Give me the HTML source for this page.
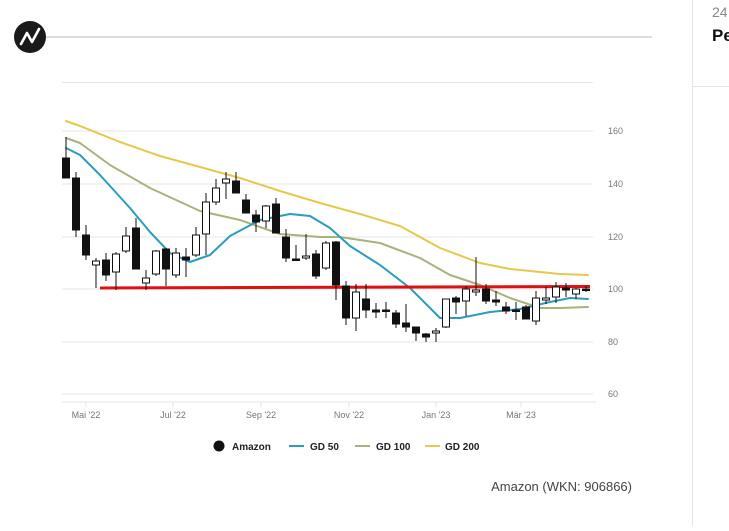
<!DOCTYPE html>
<html><head><meta charset="utf-8"><style>
body{margin:0;background:#fff;width:729px;height:526px;overflow:hidden;font-family:"Liberation Sans",sans-serif}
</style></head><body>
<svg width="729" height="526" xmlns="http://www.w3.org/2000/svg" font-family="Liberation Sans, sans-serif">
<line x1="40" y1="37" x2="652" y2="37" stroke="#c8c8c8" stroke-width="1.2"/>
<circle cx="30" cy="37" r="16" fill="#1a1a1a"/>
<polyline points="21,44 27,33 32,42 39,29" fill="none" stroke="#fff" stroke-width="2.6" stroke-linejoin="round" stroke-linecap="round"/>
<line x1="692.5" y1="0" x2="692.5" y2="526" stroke="#e4e4e4"/>
<line x1="692" y1="86.5" x2="729" y2="86.5" stroke="#e4e4e4"/>
<text x="712" y="17" font-size="14" fill="#888">24</text>
<text x="712" y="41" font-size="17" font-weight="bold" fill="#111">Pe</text>
<line x1="62" y1="82.5" x2="593" y2="82.5" stroke="#e6e6e6"/>
<g stroke="#e4e4e4" stroke-width="1">
<line x1="62" y1="131" x2="593" y2="131"/><line x1="62" y1="184" x2="593" y2="184"/>
<line x1="62" y1="237" x2="593" y2="237"/><line x1="62" y1="289" x2="593" y2="289"/>
<line x1="62" y1="342" x2="593" y2="342"/><line x1="62" y1="394" x2="593" y2="394"/>
<line x1="62" y1="402" x2="596" y2="402"/>
<line x1="86" y1="402" x2="86" y2="407"/><line x1="173" y1="402" x2="173" y2="407"/>
<line x1="261" y1="402" x2="261" y2="407"/><line x1="349" y1="402" x2="349" y2="407"/>
<line x1="436" y1="402" x2="436" y2="407"/><line x1="521" y1="402" x2="521" y2="407"/>
</g>
<g font-size="9" fill="#777">
<text x="608" y="134">160</text><text x="608" y="187">140</text><text x="608" y="240">120</text>
<text x="608" y="292">100</text><text x="608" y="345">80</text><text x="608" y="397">60</text>
</g>
<g font-size="9" fill="#777" text-anchor="middle">
<text x="86" y="418">Mai '22</text><text x="173" y="418">Jul '22</text><text x="261" y="418">Sep '22</text>
<text x="349" y="418">Nov '22</text><text x="436" y="418">Jan '23</text><text x="521" y="418">Mär '23</text>
</g>
<polyline fill="none" stroke="#e8c84a" stroke-width="2" stroke-linejoin="round" stroke-linecap="round" points="66,121 80,126 120,142 160,156 200,167 240,178 280,191 320,203 360,214 400,226 440,248 480,263 510,269 560,274 588,275"/>
<polyline fill="none" stroke="#a9b27a" stroke-width="2" stroke-linejoin="round" stroke-linecap="round" points="66,138 80,143 110,165 150,188 200,211 240,220 280,234 320,237 340,237 380,243 420,258 450,275 480,285 510,298 540,308 560,308 588,307"/>
<polyline fill="none" stroke="#2a9cc0" stroke-width="2" stroke-linejoin="round" stroke-linecap="round" points="66,148 80,155 100,175 130,208 150,232 170,253 190,262 210,255 230,236 260,220 290,214 310,216 330,228 350,246 380,265 410,288 440,318 460,318 490,312 520,309 550,302 570,298 588,299"/>
<line x1="100" y1="288" x2="590" y2="286.5" stroke="#e01010" stroke-width="3"/>
<g stroke="#111" stroke-width="1">
<line x1="66" y1="137" x2="66" y2="178"/><rect x="62.5" y="158" width="7" height="20" fill="#111"/>
<line x1="76" y1="172" x2="76" y2="237"/><rect x="72.5" y="178" width="7" height="52" fill="#111"/>
<line x1="86" y1="225" x2="86" y2="260"/><rect x="82.5" y="235" width="7" height="20" fill="#111"/>
<line x1="96" y1="258" x2="96" y2="288"/><rect x="92.5" y="261" width="7" height="4" fill="#fff"/>
<line x1="106" y1="253" x2="106" y2="281"/><rect x="102.5" y="260" width="7" height="15" fill="#111"/>
<line x1="116" y1="252" x2="116" y2="290"/><rect x="112.5" y="254" width="7" height="18" fill="#fff"/>
<line x1="126" y1="227" x2="126" y2="253"/><rect x="122.5" y="236" width="7" height="15" fill="#fff"/>
<line x1="136" y1="218" x2="136" y2="269"/><rect x="132.5" y="228" width="7" height="41" fill="#111"/>
<line x1="146" y1="270" x2="146" y2="290"/><rect x="142.5" y="278" width="7" height="5" fill="#fff"/>
<line x1="156" y1="250" x2="156" y2="276"/><rect x="152.5" y="251" width="7" height="23" fill="#fff"/>
<line x1="166" y1="248" x2="166" y2="286"/><rect x="162.5" y="249" width="7" height="20" fill="#111"/>
<line x1="176" y1="248" x2="176" y2="278"/><rect x="172.5" y="253" width="7" height="22" fill="#fff"/>
<line x1="186" y1="248" x2="186" y2="277"/><rect x="182.5" y="257" width="7" height="3" fill="#111"/>
<line x1="196" y1="227" x2="196" y2="257"/><rect x="192.5" y="235" width="7" height="20" fill="#fff"/>
<line x1="206" y1="193" x2="206" y2="255"/><rect x="202.5" y="202" width="7" height="32" fill="#fff"/>
<line x1="216" y1="179" x2="216" y2="205"/><rect x="212.5" y="188" width="7" height="14" fill="#fff"/>
<line x1="226" y1="172" x2="226" y2="199"/><rect x="222.5" y="179" width="7" height="4" fill="#fff"/>
<line x1="236" y1="172" x2="236" y2="193"/><rect x="232.5" y="181" width="7" height="12" fill="#111"/>
<line x1="246" y1="194" x2="246" y2="213"/><rect x="242.5" y="200" width="7" height="13" fill="#111"/>
<line x1="256" y1="210" x2="256" y2="232"/><rect x="252.5" y="215" width="7" height="7" fill="#111"/>
<line x1="266" y1="205" x2="266" y2="228"/><rect x="262.5" y="206" width="7" height="15" fill="#fff"/>
<line x1="276" y1="198" x2="276" y2="233"/><rect x="272.5" y="204" width="7" height="29" fill="#111"/>
<line x1="286" y1="229" x2="286" y2="262"/><rect x="282.5" y="237" width="7" height="21" fill="#111"/>
<line x1="296" y1="245" x2="296" y2="260"/><rect x="292.5" y="259" width="7" height="1.5" fill="#111"/>
<line x1="306" y1="234" x2="306" y2="260"/><rect x="302.5" y="256" width="7" height="2" fill="#fff"/>
<line x1="316" y1="250" x2="316" y2="279"/><rect x="312.5" y="254" width="7" height="22" fill="#111"/>
<line x1="326" y1="241" x2="326" y2="270"/><rect x="322.5" y="243" width="7" height="25" fill="#fff"/>
<line x1="336" y1="241" x2="336" y2="300"/><rect x="332.5" y="242" width="7" height="43" fill="#111"/>
<line x1="346" y1="281" x2="346" y2="325"/><rect x="342.5" y="286" width="7" height="32" fill="#111"/>
<line x1="356" y1="284" x2="356" y2="331"/><rect x="352.5" y="292" width="7" height="26" fill="#fff"/>
<line x1="366" y1="284" x2="366" y2="318"/><rect x="362.5" y="299" width="7" height="11" fill="#111"/>
<line x1="376" y1="303" x2="376" y2="318"/><rect x="372.5" y="310" width="7" height="2" fill="#111"/>
<line x1="386" y1="302" x2="386" y2="318"/><rect x="382.5" y="310" width="7" height="1.5" fill="#111"/>
<line x1="396" y1="310" x2="396" y2="328"/><rect x="392.5" y="313" width="7" height="11" fill="#111"/>
<line x1="406" y1="304" x2="406" y2="332"/><rect x="402.5" y="323" width="7" height="4" fill="#111"/>
<line x1="416" y1="327" x2="416" y2="341"/><rect x="412.5" y="327" width="7" height="6" fill="#111"/>
<line x1="426" y1="333" x2="426" y2="342"/><rect x="422.5" y="334" width="7" height="3" fill="#111"/>
<line x1="436" y1="328" x2="436" y2="342"/><rect x="432.5" y="331" width="7" height="2" fill="#fff"/>
<line x1="446" y1="299" x2="446" y2="328"/><rect x="442.5" y="299" width="7" height="28" fill="#fff"/>
<line x1="456" y1="296" x2="456" y2="314"/><rect x="452.5" y="298" width="7" height="4" fill="#111"/>
<line x1="466" y1="286" x2="466" y2="316"/><rect x="462.5" y="289" width="7" height="12" fill="#fff"/>
<line x1="476" y1="257" x2="476" y2="296"/><rect x="472.5" y="290" width="7" height="2" fill="#fff"/>
<line x1="486" y1="284" x2="486" y2="304"/><rect x="482.5" y="289" width="7" height="12" fill="#111"/>
<line x1="496" y1="291" x2="496" y2="306"/><rect x="492.5" y="300" width="7" height="2" fill="#111"/>
<line x1="506" y1="302" x2="506" y2="314"/><rect x="502.5" y="307" width="7" height="4" fill="#111"/>
<line x1="516" y1="302" x2="516" y2="320"/><rect x="512.5" y="310" width="7" height="1.5" fill="#111"/>
<line x1="526" y1="305" x2="526" y2="319"/><rect x="522.5" y="307" width="7" height="12" fill="#111"/>
<line x1="536" y1="291" x2="536" y2="325"/><rect x="532.5" y="298" width="7" height="23" fill="#fff"/>
<line x1="546" y1="287" x2="546" y2="304"/><rect x="542.5" y="298" width="7" height="2" fill="#fff"/>
<line x1="556" y1="282" x2="556" y2="303"/><rect x="552.5" y="287" width="7" height="10" fill="#fff"/>
<line x1="566" y1="283" x2="566" y2="297"/><rect x="562.5" y="288" width="7" height="2" fill="#111"/>
<line x1="576" y1="288" x2="576" y2="299"/><rect x="572.5" y="289" width="7" height="5" fill="#fff"/>
<line x1="586" y1="286" x2="586" y2="292"/><rect x="582.5" y="289" width="7" height="1.5" fill="#111"/>
</g>
<circle cx="219" cy="446" r="5.5" fill="#111"/>
<g font-size="10" font-weight="bold" fill="#222">
<text x="232" y="450">Amazon</text><text x="310" y="450">GD 50</text><text x="376" y="450">GD 100</text><text x="445" y="450">GD 200</text>
</g>
<line x1="289" y1="446" x2="304" y2="446" stroke="#2a9cc0" stroke-width="2"/>
<line x1="355" y1="446" x2="370" y2="446" stroke="#a9b27a" stroke-width="2"/>
<line x1="425" y1="446" x2="440" y2="446" stroke="#e8c84a" stroke-width="2"/>
<text x="632" y="491" font-size="13" fill="#444" text-anchor="end">Amazon (WKN: 906866)</text>
</svg>
</body></html>
